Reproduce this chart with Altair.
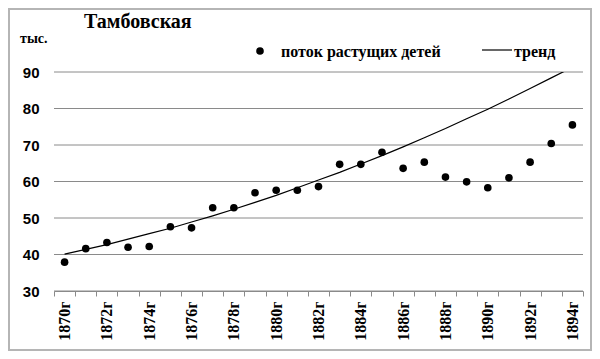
import altair as alt
import pandas as pd

years = ["1870", "1871", "1872", "1873", "1874", "1875", "1876", "1877", "1878",
         "1879", "1880", "1881", "1882", "1883", "1884", "1885", "1886", "1887",
         "1888", "1889", "1890", "1891", "1892", "1893", "1894"]
flow = [37.9, 41.6, 43.3, 42.0, 42.2, 47.6, 47.3, 52.8, 52.8, 56.9, 57.6, 57.6,
        58.6, 64.7, 64.7, 68.0, 63.6, 65.3, 61.2, 59.9, 58.3, 61.0, 65.3, 70.4, 75.5]
trend = [40.1, 41.4, 42.7, 44.2, 45.7, 47.2, 48.9, 50.6, 52.4, 54.3, 56.2, 58.3,
         60.4, 62.5, 64.8, 67.1, 69.5, 72.0, 74.5, 77.2, 79.8, 82.6, 85.5, 88.4, 91.3]
y_ticks = [30, 40, 50, 60, 70, 80, 90]

title_text = "Тамбовская"
unit_text = "тыс."
legend_points = "поток растущих детей"
legend_trend = "тренд"

df = pd.DataFrame({"year": years, "flow": flow, "trend": trend})
grid_df = pd.DataFrame({"v": y_ticks})

SERIF = "Liberation Serif, Times New Roman, serif"
SANS = "Liberation Sans, Arial, sans-serif"
GRID = "#8a8a8a"

x_scale = alt.Scale(type="band", paddingInner=0, paddingOuter=0, domain=years)
x_axis = alt.Axis(
    title=None,
    tickBand="extent",
    labelAngle=270,
    labelExpr="isValid(datum.value) && toNumber(datum.value) % 2 == 0 ? datum.value + 'г' : ''",
    labelFont=SERIF,
    labelFontSize=16,
    labelFontWeight="bold",
    labelColor="black",
    labelOverlap=False,
    labelPadding=5,
    tickColor=GRID,
    tickSize=5,
    domainColor=GRID,
    grid=False,
)

y_scale = alt.Scale(domain=[30, 90], nice=False, zero=False)
y_axis = alt.Axis(
    title=None,
    values=y_ticks,
    grid=False,
    ticks=False,
    domain=False,
    labelOverlap=False,
    labelFont=SANS,
    labelFontSize=15,
    labelFontWeight="bold",
    labelColor="black",
    labelPadding=15,
)

gridlines = alt.Chart(grid_df).mark_rule(color=GRID, strokeWidth=1).encode(
    y=alt.Y("v:Q", scale=y_scale, axis=y_axis),
    x=alt.value(0),
    x2=alt.value(529),
)

trend_line = alt.Chart(df).mark_line(color="black", strokeWidth=1.2, clip=True).encode(
    x=alt.X("year:N", scale=x_scale, axis=x_axis),
    y=alt.Y("trend:Q", scale=y_scale, axis=y_axis),
)

points = alt.Chart(df).mark_circle(size=58, color="black", opacity=1).encode(
    x=alt.X("year:N", scale=x_scale, axis=x_axis),
    y=alt.Y("flow:Q", scale=y_scale, axis=y_axis),
)

one = alt.Data(values=[{"a": 1}])

border = alt.Chart(one).mark_rect(fillOpacity=0, stroke="#b5b5b5", strokeWidth=2).encode(
    x=alt.value(-45), x2=alt.value(537), y=alt.value(-63), y2=alt.value(278)
)

title = alt.Chart(one).mark_text(
    text=title_text, font=SERIF, fontSize=20, fontWeight="bold", align="left",
    baseline="alphabetic", color="black"
).encode(x=alt.value(30), y=alt.value(-44))

unit = alt.Chart(one).mark_text(
    text=unit_text, font=SERIF, fontSize=14, fontWeight="bold", align="left",
    baseline="alphabetic", color="black"
).encode(x=alt.value(-34), y=alt.value(-29))

leg_dot = alt.Chart(one).mark_circle(size=58, color="black", opacity=1).encode(
    x=alt.value(206), y=alt.value(-21)
)
leg_text1 = alt.Chart(one).mark_text(
    text=legend_points, font=SERIF, fontSize=16, fontWeight="bold", align="left",
    baseline="alphabetic", color="black"
).encode(x=alt.value(227), y=alt.value(-15.5))

leg_line = alt.Chart(one).mark_rule(color="black", strokeWidth=1.2).encode(
    x=alt.value(428), x2=alt.value(458), y=alt.value(-22)
)
leg_text2 = alt.Chart(one).mark_text(
    text=legend_trend, font=SERIF, fontSize=16, fontWeight="bold", align="left",
    baseline="alphabetic", color="black"
).encode(x=alt.value(460), y=alt.value(-15.5))

chart = alt.layer(
    gridlines, trend_line, points, border, title, unit, leg_dot, leg_text1, leg_line, leg_text2
).properties(
    width=529,
    height=219,
    autosize=alt.AutoSizeParams(type="none"),
    padding={"left": 46, "top": 64, "right": 9, "bottom": 60},
    background="white",
).configure_view(stroke=None)

chart.save("out.html", embed_options={"renderer": "svg", "actions": False})
